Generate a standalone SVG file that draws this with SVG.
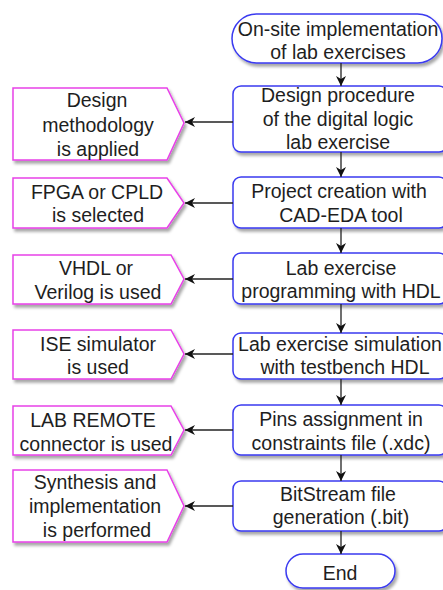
<svg xmlns="http://www.w3.org/2000/svg" width="443" height="590" viewBox="0 0 443 590">
  <defs>
    <filter id="shadow" x="-10%" y="-10%" width="130%" height="140%">
      <feDropShadow dx="2" dy="3" stdDeviation="1.6" flood-color="#000" flood-opacity="0.35"/>
    </filter>
    <marker id="arrow" viewBox="0 0 10 10" refX="10" refY="5" markerWidth="10" markerHeight="10" markerUnits="userSpaceOnUse" orient="auto">
      <path d="M0,0 L10,5 L0,10 L3,5 Z" fill="#111"/>
    </marker>
  </defs>
  <style>
    .step { fill: #fff; stroke: #3a3af0; stroke-width: 1.5; filter: url(#shadow); }
    .note { fill: #fff; stroke: #e840e8; stroke-width: 1.5; filter: url(#shadow); }
    .lbl { font-family: "Liberation Sans", Arial, sans-serif; font-size: 19.5px; fill: #1e1e1e; text-anchor: middle; }
    .link { stroke: #222; stroke-width: 1.3; fill: none; marker-end: url(#arrow); }
  </style>

  <rect width="443" height="590" fill="#fff"/>

  <!-- flow steps -->
  <g id="start">
    <rect class="step" x="232" y="14" width="210" height="49" rx="24.5"/>
    <text class="lbl" x="338" y="36">On-site implementation</text>
    <text class="lbl" x="338" y="59">of lab exercises</text>
  </g>
  <g id="design">
    <rect class="step" x="233" y="86" width="214" height="66" rx="8"/>
    <text class="lbl" x="338" y="102">Design procedure</text>
    <text class="lbl" x="338" y="126">of the digital logic</text>
    <text class="lbl" x="338" y="149">lab exercise</text>
  </g>
  <g id="project">
    <rect class="step" x="233" y="177" width="214" height="51" rx="8"/>
    <text class="lbl" x="339" y="198">Project creation with</text>
    <text class="lbl" x="341" y="222">CAD-EDA tool</text>
  </g>
  <g id="programming">
    <rect class="step" x="233" y="253" width="214" height="51" rx="8"/>
    <text class="lbl" x="341" y="275">Lab exercise</text>
    <text class="lbl" x="341" y="298">programming with HDL</text>
  </g>
  <g id="simulation">
    <rect class="step" x="233" y="333" width="214" height="46" rx="8"/>
    <text class="lbl" x="340" y="351">Lab exercise simulation</text>
    <text class="lbl" x="345" y="374">with testbench HDL</text>
  </g>
  <g id="pins">
    <rect class="step" x="233" y="405" width="214" height="50" rx="8"/>
    <text class="lbl" x="341" y="426">Pins assignment in</text>
    <text class="lbl" x="341" y="450">constraints file (.xdc)</text>
  </g>
  <g id="bitstream">
    <rect class="step" x="233" y="481" width="214" height="50" rx="8"/>
    <text class="lbl" x="338" y="501">BitStream file</text>
    <text class="lbl" x="341" y="524">generation (.bit)</text>
  </g>
  <g id="end">
    <rect class="step" x="286" y="554" width="109" height="34" rx="17"/>
    <text class="lbl" x="340" y="580">End</text>
  </g>

  <!-- side notes -->
  <g id="note-methodology">
    <path class="note" d="M13,88 H167 L184,123 L167,160 H13 Z"/>
    <text class="lbl" x="97" y="107">Design</text>
    <text class="lbl" x="98" y="132">methodology</text>
    <text class="lbl" x="98" y="156">is applied</text>
  </g>
  <g id="note-device">
    <path class="note" d="M13,178 H167 L184,203 L167,228 H13 Z"/>
    <text class="lbl" x="97" y="199">FPGA or CPLD</text>
    <text class="lbl" x="98" y="222">is selected</text>
  </g>
  <g id="note-hdl">
    <path class="note" d="M13,255 H171 L184,279 L171,304 H13 Z"/>
    <text class="lbl" x="96" y="275">VHDL or</text>
    <text class="lbl" x="98" y="299">Verilog is used</text>
  </g>
  <g id="note-simulator">
    <path class="note" d="M13,330 H171 L184,354 L171,379 H13 Z"/>
    <text class="lbl" x="98" y="351">ISE simulator</text>
    <text class="lbl" x="98" y="374">is used</text>
  </g>
  <g id="note-connector">
    <path class="note" d="M13,406 H171 L184,430 L171,455 H13 Z"/>
    <text class="lbl" x="93" y="427">LAB REMOTE</text>
    <text class="lbl" x="96" y="451">connector is used</text>
  </g>
  <g id="note-synthesis">
    <path class="note" d="M13,470 H167 L184,506 L167,542 H13 Z"/>
    <text class="lbl" x="95" y="489">Synthesis and</text>
    <text class="lbl" x="95" y="513">implementation</text>
    <text class="lbl" x="97" y="537">is performed</text>
  </g>

  <!-- connectors -->
  <g id="connectors">
    <line class="link" x1="341" y1="63" x2="341" y2="86"/>
    <line class="link" x1="341" y1="152" x2="341" y2="177"/>
    <line class="link" x1="341" y1="228" x2="341" y2="253"/>
    <line class="link" x1="341" y1="304" x2="341" y2="333"/>
    <line class="link" x1="341" y1="379" x2="341" y2="405"/>
    <line class="link" x1="341" y1="455" x2="341" y2="481"/>
    <line class="link" x1="341" y1="531" x2="341" y2="554"/>
    <line class="link" x1="233" y1="122" x2="185" y2="122"/>
    <line class="link" x1="233" y1="203" x2="185" y2="203"/>
    <line class="link" x1="233" y1="279" x2="185" y2="279"/>
    <line class="link" x1="233" y1="354" x2="185" y2="354"/>
    <line class="link" x1="233" y1="430" x2="185" y2="430"/>
    <line class="link" x1="233" y1="506" x2="185" y2="506"/>
  </g>
</svg>
